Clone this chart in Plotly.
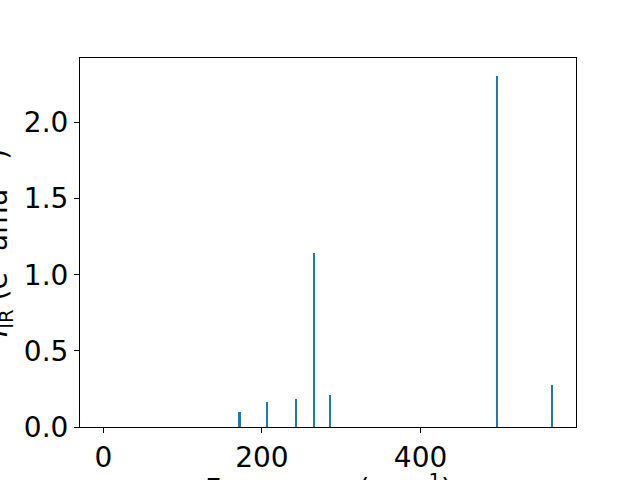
import plotly.graph_objects as go

frequencies = [0.0, 172.0, 207.0, 243.5, 266.0, 286.0, 497.0, 566.5]
intensities = [0.0, 0.096, 0.162, 0.181, 1.143, 0.207, 2.308, 0.273]
x_ticks = [0, 200, 400]
y_ticks = [0.0, 0.5, 1.0, 1.5, 2.0]
y_tick_labels = ["0.0", "0.5", "1.0", "1.5", "2.0"]

font = dict(family="DejaVu Sans", size=28, color="black")

fig = go.Figure()
fig.add_trace(go.Bar(x=frequencies, y=intensities, width=2,
                     marker=dict(color="#1f77b4", line=dict(width=0))))

fig.update_layout(
    width=640, height=480,
    margin=dict(l=80, r=64, t=58, b=53, autoexpand=False),
    paper_bgcolor="white", plot_bgcolor="white",
    showlegend=False, font=font, bargap=0,
)
fig.update_xaxes(range=[-29.4, 596], tickvals=x_ticks, ticks="outside", ticklen=5,
                 tickwidth=1, tickcolor="black", showline=True, linecolor="black",
                 linewidth=1, mirror=True, showgrid=False, zeroline=False,
                 tickfont=font, automargin=False)
fig.update_yaxes(range=[0, 2.423], tickvals=y_ticks, ticktext=y_tick_labels,
                 ticks="outside", ticklen=5, tickwidth=1, tickcolor="black",
                 showline=True, linecolor="black", linewidth=1, mirror=True,
                 showgrid=False, zeroline=False, tickfont=font, automargin=False)

fig.add_annotation(text="<i>I</i><sub>IR</sub> (e<sup>2</sup> amu<sup>−1</sup>)",
                   xref="paper", yref="paper", x=-0.121, y=0.5,
                   xanchor="right", yanchor="middle", textangle=-90,
                   showarrow=False, font=font)
fig.add_annotation(text="Frequency (cm<sup>−1</sup>)",
                   xref="paper", yref="paper", x=0.5, y=-0.108,
                   xanchor="center", yanchor="top",
                   showarrow=False, font=font)

fig.write_html("out.html", config={"displayModeBar": False},
               post_script="document.body.style.margin='0';")
